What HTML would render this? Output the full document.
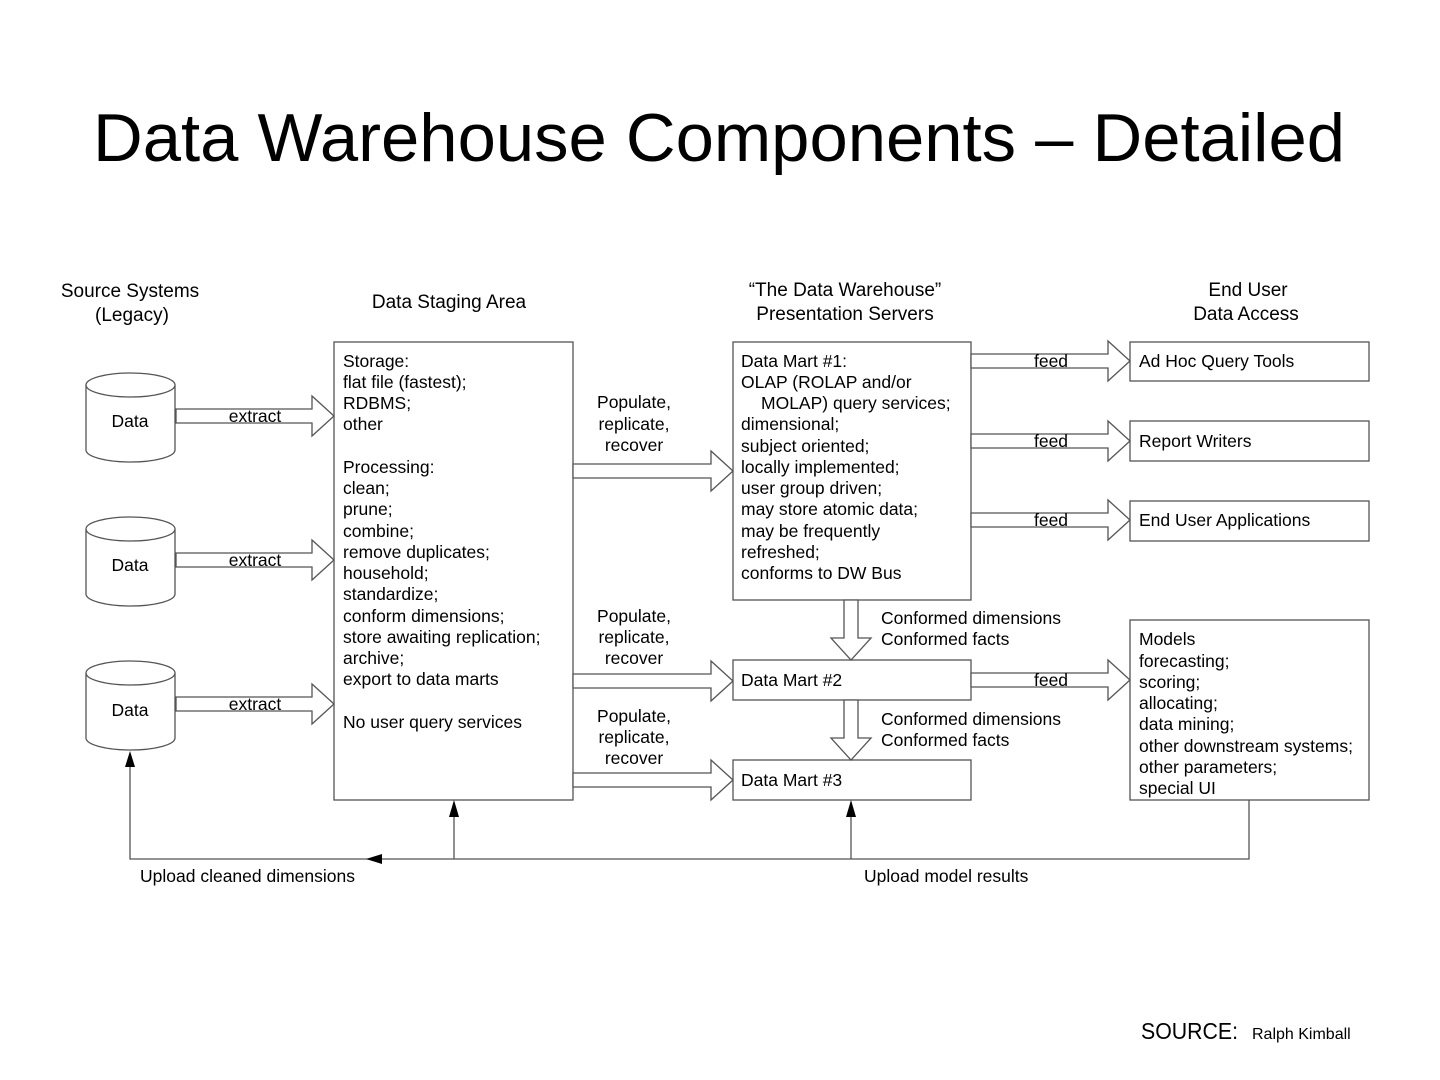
<!DOCTYPE html>
<html><head><meta charset="utf-8"><style>
html,body{margin:0;padding:0;background:#fff;}
svg{display:block;}
text{font-family:"Liberation Sans",sans-serif;font-size:17.5px;fill:#000;}
</style></head><body>
<svg width="1440" height="1080" viewBox="0 0 1440 1080" xmlns="http://www.w3.org/2000/svg">
<text x="93" y="161" textLength="1252" lengthAdjust="spacingAndGlyphs" style="font-size:68px">Data Warehouse Components – Detailed</text>

<g text-anchor="middle" style="font-size:19px">
<text x="130" y="297" style="font-size:19px">Source Systems</text><text x="132" y="321" style="font-size:19px">(Legacy)</text>
<text x="449" y="308" style="font-size:19px">Data Staging Area</text>
<text x="845" y="296" style="font-size:19px">“The Data Warehouse”</text><text x="845" y="320" style="font-size:19px">Presentation Servers</text>
<text x="1248" y="296" style="font-size:19px">End User</text><text x="1246" y="320" style="font-size:19px">Data Access</text>
</g>

<g fill="#fff" stroke="#555" stroke-width="1.3">
<path d="M86,385 v65 a44.5,12 0 0 0 89,0 v-65"/><ellipse cx="130.5" cy="385" rx="44.5" ry="12"/>
<path d="M86,529 v65 a44.5,12 0 0 0 89,0 v-65"/><ellipse cx="130.5" cy="529" rx="44.5" ry="12"/>
<path d="M86,673 v65 a44.5,12 0 0 0 89,0 v-65"/><ellipse cx="130.5" cy="673" rx="44.5" ry="12"/>
<rect x="334" y="342" width="239" height="458"/>
<rect x="733" y="342" width="238" height="258"/>
<rect x="733" y="660" width="238" height="40"/>
<rect x="733" y="760" width="238" height="40"/>
<rect x="1130" y="342" width="239" height="39"/>
<rect x="1130" y="421" width="239" height="40"/>
<rect x="1130" y="501" width="239" height="40"/>
<rect x="1130" y="620" width="239" height="180"/>
<polygon points="176,409 312,409 312,396 334,416 312,436 312,423 176,423"/>
<polygon points="176,553 312,553 312,540 334,560 312,580 312,567 176,567"/>
<polygon points="176,697 312,697 312,684 334,704 312,724 312,711 176,711"/>
<polygon points="573,464 711,464 711,451 733,471 711,491 711,478 573,478"/>
<polygon points="573,674 711,674 711,661 733,681 711,701 711,688 573,688"/>
<polygon points="573,773 711,773 711,760 733,780 711,800 711,787 573,787"/>
<polygon points="971,354 1108,354 1108,341 1130,361 1108,381 1108,368 971,368"/>
<polygon points="971,434 1108,434 1108,421 1130,441 1108,461 1108,448 971,448"/>
<polygon points="971,513 1108,513 1108,500 1130,520 1108,540 1108,527 971,527"/>
<polygon points="971,673 1108,673 1108,660 1130,680 1108,700 1108,687 971,687"/>
<polygon points="844,600 858,600 858,638 871,638 851,660 831,638 844,638"/>
<polygon points="844,700 858,700 858,738 871,738 851,760 831,738 844,738"/>
</g>

<g fill="none" stroke="#555" stroke-width="1.3">
<polyline points="1249,800 1249,859 130,859 130,766"/>
<line x1="454" y1="859" x2="454" y2="815"/>
<line x1="851" y1="859" x2="851" y2="815"/>
</g>
<g fill="#000">
<polygon points="130,751 125,767 135,767"/>
<polygon points="454,800 449,817 459,817"/>
<polygon points="851,800 846,817 856,817"/>
<polygon points="366,859 382,854 382,864"/>
</g>

<g text-anchor="middle">
<text x="130" y="427">Data</text><text x="130" y="571">Data</text><text x="130" y="716">Data</text>
<text x="255" y="422">extract</text><text x="255" y="566">extract</text><text x="255" y="710">extract</text>
<text x="634" y="408">Populate,</text><text x="634" y="430">replicate,</text><text x="634" y="451">recover</text>
<text x="634" y="622">Populate,</text><text x="634" y="643">replicate,</text><text x="634" y="664">recover</text>
<text x="634" y="722">Populate,</text><text x="634" y="743">replicate,</text><text x="634" y="764">recover</text>
<text x="1051" y="367">feed</text><text x="1051" y="447">feed</text><text x="1051" y="526">feed</text><text x="1051" y="686">feed</text>
</g>

<g>
<text x="343" y="367">Storage:</text>
<text x="343" y="388">flat file (fastest);</text>
<text x="343" y="409">RDBMS;</text>
<text x="343" y="430">other</text>
<text x="343" y="473">Processing:</text>
<text x="343" y="494">clean;</text>
<text x="343" y="515">prune;</text>
<text x="343" y="537">combine;</text>
<text x="343" y="558">remove duplicates;</text>
<text x="343" y="579">household;</text>
<text x="343" y="600">standardize;</text>
<text x="343" y="622">conform dimensions;</text>
<text x="343" y="643">store awaiting replication;</text>
<text x="343" y="664">archive;</text>
<text x="343" y="685">export to data marts</text>
<text x="343" y="728">No user query services</text>

<text x="741" y="367">Data Mart #1:</text>
<text x="741" y="388">OLAP (ROLAP and/or</text>
<text x="761" y="409">MOLAP) query services;</text>
<text x="741" y="430">dimensional;</text>
<text x="741" y="452">subject oriented;</text>
<text x="741" y="473">locally implemented;</text>
<text x="741" y="494">user group driven;</text>
<text x="741" y="515">may store atomic data;</text>
<text x="741" y="537">may be frequently</text>
<text x="741" y="558">refreshed;</text>
<text x="741" y="579">conforms to DW Bus</text>

<text x="741" y="686">Data Mart #2</text>
<text x="741" y="786">Data Mart #3</text>
<text x="881" y="624">Conformed dimensions</text>
<text x="881" y="645">Conformed facts</text>
<text x="881" y="725">Conformed dimensions</text>
<text x="881" y="746">Conformed facts</text>

<text x="1139" y="367">Ad Hoc Query Tools</text>
<text x="1139" y="447">Report Writers</text>
<text x="1139" y="526">End User Applications</text>
<text x="1139" y="645">Models</text>
<text x="1139" y="667">forecasting;</text>
<text x="1139" y="688">scoring;</text>
<text x="1139" y="709">allocating;</text>
<text x="1139" y="730">data mining;</text>
<text x="1139" y="752">other downstream systems;</text>
<text x="1139" y="773">other parameters;</text>
<text x="1139" y="794">special UI</text>

<text x="140" y="882">Upload cleaned dimensions</text>
<text x="864" y="882">Upload model results</text>
<text x="1141" y="1039" textLength="97" lengthAdjust="spacingAndGlyphs" style="font-size:23px">SOURCE:</text>
<text x="1252" y="1039" style="font-size:16px">Ralph Kimball</text>
</g>
</svg>
</body></html>
